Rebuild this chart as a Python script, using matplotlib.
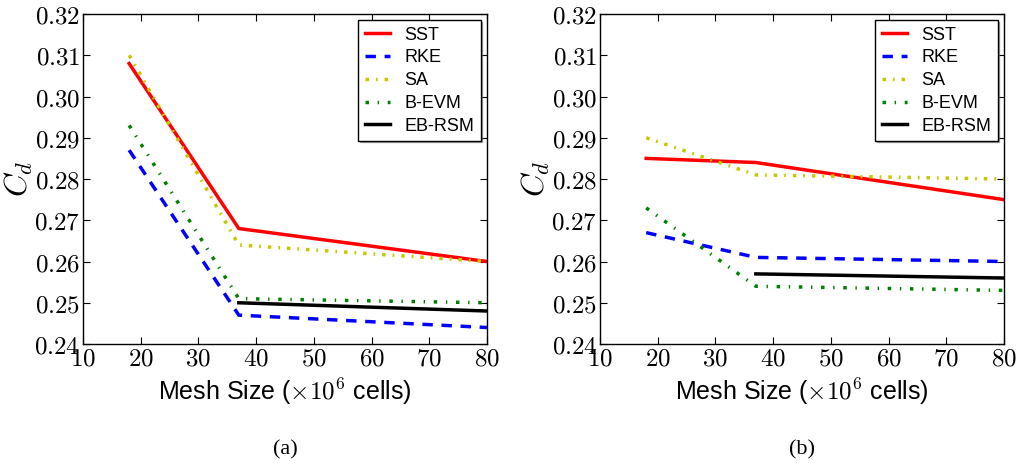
import matplotlib
matplotlib.use("Agg")
import matplotlib.pyplot as plt
from matplotlib.ticker import FuncFormatter

plt.rcParams['mathtext.fontset'] = 'cm'
plt.rcParams['font.family'] = ['Liberation Sans', 'DejaVu Sans']

labels = ["SST", "RKE", "SA", "B-EVM", "EB-RSM"]
mesh = [18, 37, 80]
mesh_rsm = [37, 80]

a_sst = [0.308, 0.268, 0.260]
a_rke = [0.287, 0.247, 0.244]
a_sa = [0.310, 0.264, 0.260]
a_bevm = [0.293, 0.251, 0.250]
a_ebrsm = [0.250, 0.248]

b_sst = [0.285, 0.284, 0.275]
b_rke = [0.267, 0.261, 0.260]
b_sa = [0.290, 0.281, 0.280]
b_bevm = [0.273, 0.254, 0.253]
b_ebrsm = [0.257, 0.256]

xticks = [10, 20, 30, 40, 50, 60, 70, 80]
yticks = [0.24, 0.25, 0.26, 0.27, 0.28, 0.29, 0.30, 0.31, 0.32]

fig = plt.figure(figsize=(10.17, 4.69), dpi=100)
ax1 = fig.add_axes([0.0816, 0.2665, 0.3972, 0.7036])
ax2 = fig.add_axes([0.590, 0.2665, 0.3972, 0.7036])

def draw(ax, sst, rke, sa, bevm, ebrsm, tag):
    ax.plot(mesh, sst, color='red', lw=2.5, ls='-', label=labels[0])
    ax.plot(mesh, rke, color='blue', lw=2.5, ls=(0, (3, 2.5)), label=labels[1])
    ax.plot(mesh, sa, color='#c8c800', lw=2.5, ls=(0, (1, 2, 0.5, 2)), label=labels[2])
    ax.plot(mesh, bevm, color='green', lw=2.5, ls=(0, (1, 2.5, 0.4, 2.5)), label=labels[3])
    ax.plot(mesh_rsm, ebrsm, color='black', lw=2.5, ls='-', label=labels[4])
    ax.set_xlim(10, 80)
    ax.set_ylim(0.24, 0.32)
    ax.set_xticks(xticks)
    ax.set_yticks(yticks)
    ax.xaxis.set_major_formatter(FuncFormatter(lambda v, p: r'$%d$' % v))
    ax.yaxis.set_major_formatter(FuncFormatter(lambda v, p: r'$%.2f$' % v))
    ax.tick_params(direction='in', top=True, right=True, length=5, labelsize=18, pad=2)
    for s in ax.spines.values():
        s.set_linewidth(1.0)
    ax.set_xlabel(r'Mesh Size ($\times10^6$ cells)', fontsize=18, labelpad=4)
    ax.set_ylabel(r'$C_d$', fontsize=23)
    ax.yaxis.set_label_coords(-0.12, 0.5)
    leg = ax.legend(loc='upper right', fontsize=13, frameon=True, fancybox=False,
                    shadow={'ox': 1, 'oy': -1, 'shade': 0.6},
                    handlelength=1.4, handletextpad=0.8, borderpad=0.35,
                    labelspacing=0.32, borderaxespad=0.35)
    leg.get_frame().set_edgecolor('black')
    leg.get_frame().set_linewidth(1.0)
    ax.text(0.5, -0.32, tag, transform=ax.transAxes, ha='center', va='center',
            fontsize=16, family='Liberation Serif')

draw(ax1, a_sst, a_rke, a_sa, a_bevm, a_ebrsm, '(a)')
draw(ax2, b_sst, b_rke, b_sa, b_bevm, b_ebrsm, '(b)')

fig.savefig('out.png', dpi=100)
